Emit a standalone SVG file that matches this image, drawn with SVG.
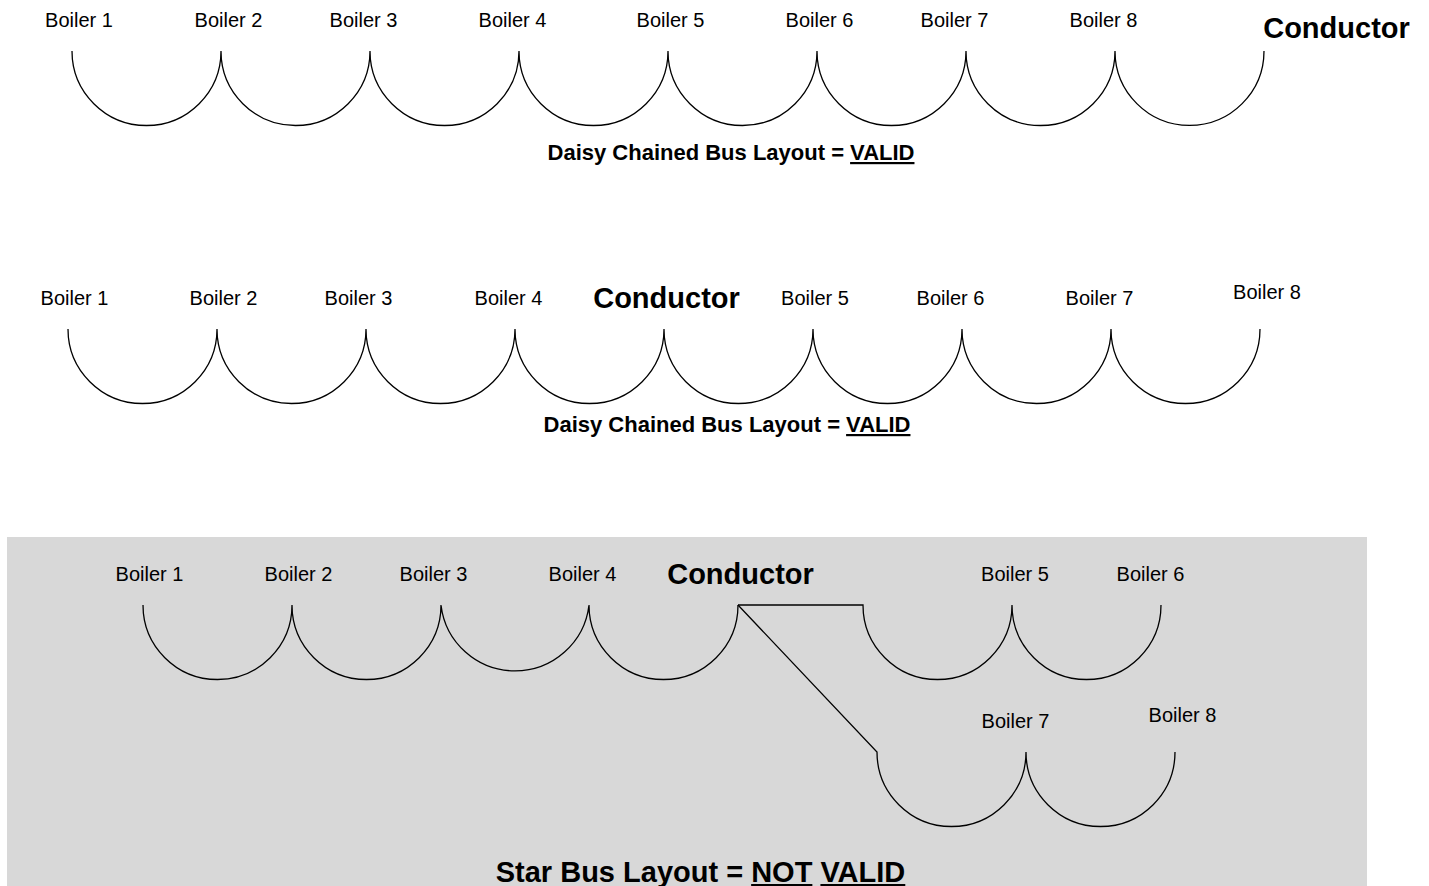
<svg xmlns="http://www.w3.org/2000/svg" width="1429" height="886" viewBox="0 0 1429 886">
<style>
.b{font-family:"Liberation Sans",Arial,sans-serif;font-size:20px;fill:#000;text-anchor:middle}
.c{font-family:"Liberation Sans",Arial,sans-serif;font-size:29px;font-weight:bold;fill:#000;text-anchor:middle}
.t{font-family:"Liberation Sans",Arial,sans-serif;font-size:22px;font-weight:bold;fill:#000;text-anchor:middle}
.t2{font-family:"Liberation Sans",Arial,sans-serif;font-size:29px;font-weight:bold;fill:#000;text-anchor:middle}
.u{text-decoration:underline}
.w{fill:none;stroke:#000;stroke-width:1.3}
</style>
<rect x="0" y="0" width="1429" height="886" fill="#fff"/>
<rect x="7" y="537" width="1360" height="349" fill="#d8d8d8"/>

<g id="connectors" class="w">
  <path class="w" d="M72,51 A74.5,74.5 0 0 0 221,51 A74.5,74.5 0 0 0 370,51 A74.5,74.5 0 0 0 519,51 A74.5,74.5 0 0 0 668,51 A74.5,74.5 0 0 0 817,51 A74.5,74.5 0 0 0 966,51 A74.5,74.5 0 0 0 1115,51 A74.5,74.5 0 0 0 1264,51"/>
  <path class="w" d="M68,329 A74.5,74.5 0 0 0 217,329 A74.5,74.5 0 0 0 366,329 A74.5,74.5 0 0 0 515,329 A74.5,74.5 0 0 0 664,329 A74.5,74.5 0 0 0 813,329 A74.5,74.5 0 0 0 962,329 A74.5,74.5 0 0 0 1111,329 A74.5,74.5 0 0 0 1260,329"/>
  <path class="w" d="M143,605 A74.5,74.5 0 0 0 292,605 A74.5,74.5 0 0 0 441,605 A74.5,74.5 0 0 0 589,605 A74.5,74.5 0 0 0 738,605"/>
  <path class="w" d="M738,605 L863,605 A74.5,74.5 0 0 0 1012,605 A74.5,74.5 0 0 0 1161,605"/>
  <path class="w" d="M738,605 L877,752 A74.5,74.5 0 0 0 1026,752 A74.5,74.5 0 0 0 1175,752"/>
</g>

<g id="row1">
  <g id="r1-b1"><text class="b" x="79" y="27">Boiler 1</text></g>
  <g id="r1-b2"><text class="b" x="228.5" y="27">Boiler 2</text></g>
  <g id="r1-b3"><text class="b" x="363.5" y="27">Boiler 3</text></g>
  <g id="r1-b4"><text class="b" x="512.5" y="27">Boiler 4</text></g>
  <g id="r1-b5"><text class="b" x="670.5" y="27">Boiler 5</text></g>
  <g id="r1-b6"><text class="b" x="819.5" y="27">Boiler 6</text></g>
  <g id="r1-b7"><text class="b" x="954.5" y="27">Boiler 7</text></g>
  <g id="r1-b8"><text class="b" x="1103.5" y="27">Boiler 8</text></g>
  <g id="r1-cond"><text class="c" x="1336.5" y="38">Conductor</text></g>
  <g id="r1-title"><text class="t" x="731" y="160">Daisy Chained Bus Layout = <tspan class="u">VALID</tspan></text></g>
</g>

<g id="row2">
  <g id="r2-b1"><text class="b" x="74.5" y="305">Boiler 1</text></g>
  <g id="r2-b2"><text class="b" x="223.5" y="305">Boiler 2</text></g>
  <g id="r2-b3"><text class="b" x="358.5" y="305">Boiler 3</text></g>
  <g id="r2-b4"><text class="b" x="508.5" y="305">Boiler 4</text></g>
  <g id="r2-cond"><text class="c" x="666.5" y="308">Conductor</text></g>
  <g id="r2-b5"><text class="b" x="815" y="305">Boiler 5</text></g>
  <g id="r2-b6"><text class="b" x="950.5" y="305">Boiler 6</text></g>
  <g id="r2-b7"><text class="b" x="1099.5" y="305">Boiler 7</text></g>
  <g id="r2-b8"><text class="b" x="1267" y="299">Boiler 8</text></g>
  <g id="r2-title"><text class="t" x="727" y="432">Daisy Chained Bus Layout = <tspan class="u">VALID</tspan></text></g>
</g>

<g id="row3">
  <g id="r3-b1"><text class="b" x="149.5" y="581">Boiler 1</text></g>
  <g id="r3-b2"><text class="b" x="298.5" y="581">Boiler 2</text></g>
  <g id="r3-b3"><text class="b" x="433.5" y="581">Boiler 3</text></g>
  <g id="r3-b4"><text class="b" x="582.5" y="581">Boiler 4</text></g>
  <g id="r3-cond"><text class="c" x="740.5" y="584">Conductor</text></g>
  <g id="r3-b5"><text class="b" x="1015" y="581">Boiler 5</text></g>
  <g id="r3-b6"><text class="b" x="1150.5" y="581">Boiler 6</text></g>
  <g id="r3-b7"><text class="b" x="1015.5" y="728">Boiler 7</text></g>
  <g id="r3-b8"><text class="b" x="1182.5" y="722">Boiler 8</text></g>
  <g id="r3-title"><text class="t2" x="700.5" y="882">Star Bus Layout = <tspan class="u">NOT</tspan> <tspan class="u">VALID</tspan></text></g>
</g>
</svg>
